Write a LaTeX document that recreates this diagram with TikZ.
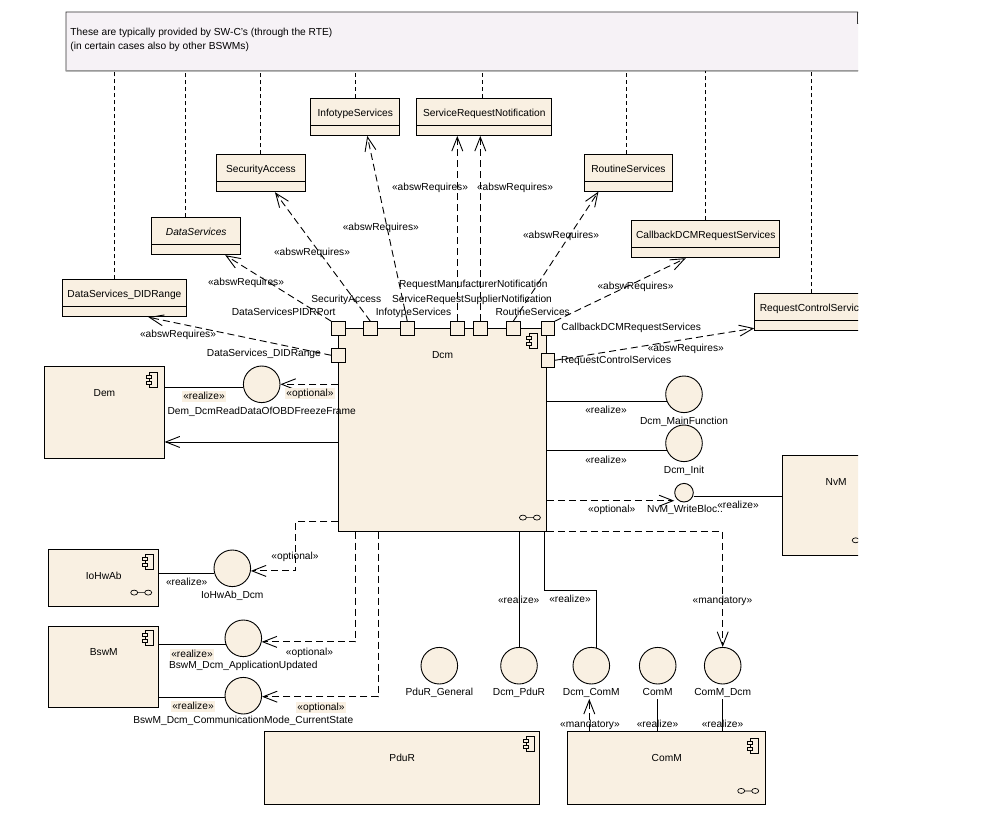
\documentclass[tikz,border=0pt]{standalone}
\usepackage{fontspec}
\setmainfont{Liberation Sans}
\usetikzlibrary{arrows.meta,positioning}
\definecolor{umlfill}{HTML}{F9F0E2}
\definecolor{notefill}{HTML}{F6F2F6}
\tikzset{
	txt/.style={font=\fontsize{10.2}{12}\selectfont},
	lbl/.style={txt,inner sep=1pt,text height=7.5pt,text depth=1.5pt},
	bglbl/.style={lbl,fill=umlfill},
	cls/.style={draw,fill=umlfill,txt,anchor=north west,inner sep=0pt,minimum height=37pt,text height=7.5pt,text depth=8.5pt,
		path picture={\draw[line width=0.9pt] ([yshift=10pt]path picture bounding box.south west) -- ([yshift=10pt]path picture bounding box.south east);}},
	comp/.style={draw,fill=umlfill,anchor=north west,inner sep=0pt},
	port/.style={draw,fill=umlfill,minimum size=13.3pt,inner sep=0pt},
	iface/.style={circle,draw,fill=umlfill,minimum size=36.6pt,inner sep=0pt},
	dep/.style={dash pattern=on 7pt off 4pt,-{Straight Barb[length=14pt,width=11pt]}},
	notelink/.style={dash pattern=on 4pt off 3pt},
	compicon/.pic={
		\draw[line width=0.7pt,fill=umlfill] (-3,-7.5) rectangle (5,7.5);
		\draw[line width=0.7pt,fill=umlfill] (-6,-4.5) rectangle (-1,-1.5) (-6,1.5) rectangle (-1,4.5);
	},
	linkicon/.pic={
		\draw[line width=0.7pt] (-7,0) ellipse [x radius=3.5pt,y radius=2.5pt] (7,0) ellipse [x radius=3.5pt,y radius=2.5pt] (-3.5,0) -- (3.5,0);
	},
}

\begin{document}
\begin{tikzpicture}[x=1pt,y=-1pt,line width=0.9pt]
	\fill[white] (0,0) rectangle (984,813);
	\useasboundingbox (0,0) rectangle (984,813);
	\begin{scope}
	\clip (0,0) rectangle (858,813);
	% note on top
	\node (note) [anchor=north west,minimum width=801pt,minimum height=58pt,inner sep=0pt] at (66,12) {};
	\filldraw[fill=notefill,draw=black!80] (note.north west) -- ([xshift=-10.3pt]note.north east) -- ([yshift=-11pt]note.north east) -- (note.south east) -- (note.south west) -- cycle;
	\draw[black!80] ([xshift=-10.3pt]note.north east) -- ([xshift=-10.3pt,yshift=-11pt]note.north east) -- ([yshift=-11pt]note.north east);
	\draw[black!40] (note.south west) -- (note.south east);
	\node (notetext) [anchor=north west,inner sep=0pt,align=left,font=\fontsize{10.2}{13.5}\selectfont] at (70,28) {These are typically provided by SW-C's (through the RTE)\\(in certain cases also by other BSWMs)};
	% classes
	\node (cInfo) [cls,minimum width=89pt] at (310.3,98) {InfotypeServices};
	\node (cSRN) [cls,minimum width=135pt] at (416.3,98) {ServiceRequestNotification};
	\node (cSec) [cls,minimum width=89.6pt] at (215.7,154.3) {SecurityAccess};
	\node (cRout) [cls,minimum width=88.6pt] at (583.7,153.7) {RoutineServices};
	\node (cData) [cls,minimum width=89pt,font=\fontsize{10.2}{12}\selectfont\itshape] at (151.3,217.3) {DataServices};
	\node (cCallb) [cls,minimum width=148pt] at (631.3,220.3) {CallbackDCMRequestServices};
	\node (cDIDR) [cls,minimum width=123.4pt] at (62.3,279.3) {DataServices\_DIDRange};
	\node (cReqCtl) [cls,minimum width=120pt] at (754.3,293.3) {RequestControlServices};
	\draw[notelink] ([xshift=-10pt]cDIDR.north) -- ([xshift=-10pt]cDIDR.north |- note.south);
	\draw[notelink] ([xshift=-11pt]cData.north) -- ([xshift=-11pt]cData.north |- note.south);
	\draw[notelink] ([xshift=-1pt]cSec.north) -- ([xshift=-1pt]cSec.north |- note.south);
	\draw[notelink] (cInfo.north) -- (cInfo.north |- note.south);
	\draw[notelink] ([xshift=-2pt]cSRN.north) -- ([xshift=-2pt]cSRN.north |- note.south);
	\draw[notelink] ([xshift=-2pt]cRout.north) -- ([xshift=-2pt]cRout.north |- note.south);
	\draw[notelink] (cCallb.north) -- (cCallb.north |- note.south);
	\draw[notelink] ([xshift=56.7pt]cReqCtl.north west) -- ([xshift=56.7pt]cReqCtl.north west |- note.south);
	% components
	\node (dcm) [comp,minimum width=207.7pt,minimum height=202.4pt] at (338.3,328.3) {};
	\node (dem) [comp,minimum width=119.4pt,minimum height=92pt] at (44.3,366.3) {};
	\node (nvm) [comp,minimum width=108pt,minimum height=99.7pt] at (781.7,455.3) {};
	\node (iohwab) [comp,minimum width=110pt,minimum height=57pt] at (48.3,549.3) {};
	\node (bswm) [comp,minimum width=110pt,minimum height=81.6pt] at (48.3,625.7) {};
	\node (pdur) [comp,minimum width=275pt,minimum height=73.3pt] at (264.3,731) {};
	\node (comm) [comp,minimum width=198pt,minimum height=73pt] at (567.3,731) {};
	\node[lbl] at ([yshift=-27pt]dcm.north) {Dcm};
	\node[lbl] at ([yshift=-27pt]dem.north) {Dem};
	\node[lbl] at ([yshift=-27pt]nvm.north) {NvM};
	\node[lbl] at ([yshift=-27pt]iohwab.north) {IoHwAb};
	\node[lbl] at ([yshift=-27pt]bswm.north) {BswM};
	\node[lbl] at ([yshift=-27pt]pdur.north) {PduR};
	\node[lbl] at ([yshift=-27pt]comm.north) {ComM};
	\pic at ([shift={(-15,13)}]dcm.north east) {compicon};
	\pic at ([shift={(-12,14)}]dem.north east) {compicon};
	\pic at ([shift={(-11,12.5)}]iohwab.north east) {compicon};
	\pic at ([shift={(-11,12)}]bswm.north east) {compicon};
	\pic at ([shift={(-11,13)}]pdur.north east) {compicon};
	\pic at ([shift={(-13,15)}]comm.north east) {compicon};
	\pic at ([shift={(-17,-14)}]dcm.south east) {linkicon};
	\pic at ([shift={(-18,-14.6)}]iohwab.south east) {linkicon};
	\pic at ([shift={(-18,-14)}]comm.south east) {linkicon};
	\pic at ([shift={(81,85)}]nvm.north west) {linkicon};
	% ports of Dcm
	\node (pPIDR) [port] at (338.3,328.3) {};
	\node (pSec) [port] at (370.3,328.3) {};
	\node (pInfo) [port] at (407.3,328.3) {};
	\node (pReqMan) [port] at (457.3,328.3) {};
	\node (pReqSup) [port] at (480.3,328.3) {};
	\node (pRout) [port] at (513.3,328.3) {};
	\node (pCallb) [port] at (547.7,328.3) {};
	\node (pDIDR) [port] at (338.3,355.3) {};
	\node (pReqCtl) [port] at (547.7,360.3) {};
	\draw[dep] (pPIDR.north west) -- ([xshift=29pt]cData.south);
	\draw[dep] (pDIDR.west) -- ([xshift=24pt]cDIDR.south);
	\draw[dep] (pSec.north) -- ([xshift=14pt]cSec.south);
	\draw[dep] (pInfo.north) -- ([xshift=12pt]cInfo.south);
	\draw[dep] (pReqMan.north) -- (pReqMan.north |- cSRN.south);
	\draw[dep] (pReqSup.north) -- (pReqSup.north |- cSRN.south);
	\draw[dep] (pRout.north) -- ([xshift=-30pt]cRout.south);
	\draw[dep] (pCallb.north east) -- ([xshift=-20pt]cCallb.south);
	\draw[dep] (pReqCtl.east) -- ([yshift=3pt]cReqCtl.south west);
	\node[lbl] at (473.3,284) {RequestManufacturerNotification};
	\node[lbl] at (346.3,299) {SecurityAccess};
	\node[lbl] at (472,299) {ServiceRequestSupplierNotification};
	\node[lbl,anchor=east] at (337,312.7) {DataServicesPIDRPort};
	\node[lbl] at (413.5,312.3) {InfotypeServices};
	\node[lbl] at (532.7,312.3) {RoutineServices};
	\node[lbl,anchor=west] at (560,327.7) {CallbackDCMRequestServices};
	\node[lbl,anchor=east] at (322.3,353.7) {DataServices\_DIDRange};
	\node[lbl,anchor=west] at (559.7,360.7) {RequestControlServices};
	\node[lbl] at (178,334) {«abswRequires»};
	\node[lbl] at (246,282.7) {«abswRequires»};
	\node[lbl] at (312,252) {«abswRequires»};
	\node[lbl] at (380.8,227) {«abswRequires»};
	\node[lbl] at (430,187.3) {«abswRequires»};
	\node[lbl] at (515,187.3) {«abswRequires»};
	\node[lbl] at (561,235) {«abswRequires»};
	\node[lbl] at (635.5,286.7) {«abswRequires»};
	\node[lbl] at (685.8,348.3) {«abswRequires»};
	% interfaces
	\node (iOBD) [iface] at (261.7,384.3) {};
	\node (iMain) [iface] at (684,394.3) {};
	\node (iInit) [iface] at (684,443.3) {};
	\node (iNvM) [iface,minimum size=18.6pt] at (684,492.7) {};
	\node (iIoHwAb) [iface] at (232.3,568.3) {};
	\node (iAppUpd) [iface] at (243.3,638.3) {};
	\node (iCommMode) [iface] at (243.3,695.7) {};
	\node (iPduRGen) [iface] at (439.3,665.7) {};
	\node (iDcmPduR) [iface] at (519,665.7) {};
	\node (iDcmComM) [iface] at (591.3,665.7) {};
	\node (iComM) [iface] at (657.7,665.7) {};
	\node (iComMDcm) [iface] at (722.7,665.7) {};
	\node (lOBD) [lbl,below=2pt of iOBD] {Dem\_DcmReadDataOfOBDFreezeFrame};
	\node (lMain) [lbl,below=2pt of iMain] {Dcm\_MainFunction};
	\node (lInit) [lbl,below=2pt of iInit] {Dcm\_Init};
	\node (lIoHwAb) [lbl,below=2pt of iIoHwAb] {IoHwAb\_Dcm};
	\node (lAppUpd) [lbl,below=2pt of iAppUpd] {BswM\_Dcm\_ApplicationUpdated};
	\node (lCommMode) [lbl,below=0.5pt of iCommMode] {BswM\_Dcm\_CommunicationMode\_CurrentState};
	\node (lPduRGen) [lbl,below=2.5pt of iPduRGen] {PduR\_General};
	\node (lDcmPduR) [lbl,below=2.5pt of iDcmPduR] {Dcm\_PduR};
	\node (lDcmComM) [lbl,below=2.5pt of iDcmComM] {Dcm\_ComM};
	\node (lComM) [lbl,below=2.5pt of iComM] {ComM};
	\node (lComMDcm) [lbl,below=2.5pt of iComMDcm] {ComM\_Dcm};
	\node (lNvM) [lbl,anchor=west] at (645.7,509.3) {NvM\_WriteBloc..};
	% connectors round Dcm
	\coordinate (demIn) at ([yshift=-12pt]dcm.west);
	\coordinate (nvmIn) at ([yshift=-8pt]iNvM.west);
	\coordinate (nvmOut) at ([yshift=-3.5pt]iNvM.east);
	\coordinate (mandIn) at ([xshift=22pt]comm.north west);
	\draw[-{Straight Barb[length=14pt,width=11pt]}] (demIn) -- (demIn -| dem.east);
	\draw[dep] (dcm.west |- iOBD) -- (iOBD);
	\draw (dem.east |- iOBD.190) -- (iOBD.190);
	\draw (dcm.east |- iMain.202) -- (iMain.202);
	\draw (dcm.east |- iInit.202) -- (iInit.202);
	\draw[dep] (nvmIn -| dcm.east) -- (nvmIn);
	\draw (nvmOut) -- (nvmOut -| nvm.west);
	\draw[dep] ([yshift=10pt]dcm.south west) -- ++(-42.6,0) |- (iIoHwAb.-8);
	\draw (iohwab.east |- iIoHwAb.196) -- (iIoHwAb.196);
	\draw[dep] ([xshift=17.4pt]dcm.south west) |- (iAppUpd.-11);
	\draw (bswm.east |- iAppUpd.200) -- (iAppUpd.200);
	\draw[dep] ([xshift=40pt]dcm.south west) |- (iCommMode.-3);
	\draw (bswm.east |- iCommMode.184) -- (iCommMode.184);
	\draw (iDcmPduR.north |- dcm.south) -- (iDcmPduR.north);
	\draw ([xshift=-2.7pt]dcm.south east) -- ++(0,58.6) -| (iDcmComM.75);
	\draw[dep] (dcm.south east) -| (iComMDcm.north);
	\draw[dep] (mandIn) -- (mandIn |- lDcmComM.south);
	\draw (lComM.south |- comm.north) -- (lComM.south);
	\draw (lComMDcm.south |- comm.north) -- (lComMDcm.south);
	% stereotypes
	\node[bglbl] at (204,396) {«realize»};
	\node[bglbl] at (310,393.3) {«optional»};
	\node[lbl] at (606,410.7) {«realize»};
	\node[lbl] at (606,460) {«realize»};
	\node[lbl] at (611.7,509.3) {«optional»};
	\node[lbl] at (738,505) {«realize»};
	\node[lbl] at (295,556) {«optional»};
	\node[lbl] at (186.7,582.7) {«realize»};
	\node[bglbl] at (192,654) {«realize»};
	\node[lbl] at (309.5,652.3) {«optional»};
	\node[bglbl] at (193,706) {«realize»};
	\node[bglbl] at (321,707) {«optional»};
	\node[lbl] at (518.7,600.3) {«realize»};
	\node[lbl] at (570,599.3) {«realize»};
	\node[lbl] at (722.5,600) {«mandatory»};
	\node[lbl] at (590,724.7) {«mandatory»};
	\node[lbl] at (657.5,724.7) {«realize»};
	\node[lbl] at (722.5,724.7) {«realize»};
	\end{scope}
\end{tikzpicture}
\end{document}
